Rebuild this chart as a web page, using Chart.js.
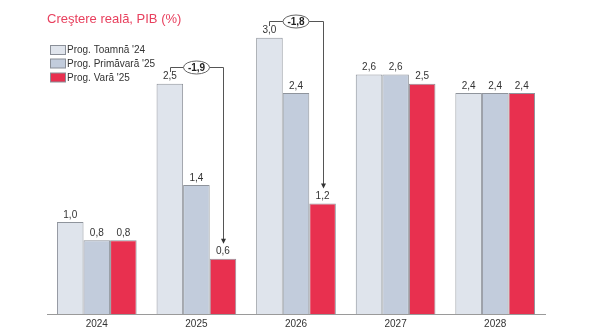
<!DOCTYPE html>
<html><head><meta charset="utf-8">
<script src="https://cdn.jsdelivr.net/npm/chart.js@4/dist/chart.umd.min.js"></script>
<style>html,body{margin:0;padding:0;background:#fff}#wrap{width:600px;height:334px;position:relative}</style>
</head><body><div id="wrap"><canvas id="c" width="600" height="334"></canvas></div>
<script>
const categories = ['2024','2025','2026','2027','2028'];
const seriesNames = ["Prog. Toamnă '24", "Prog. Primăvară '25", "Prog. Vară '25"];
const toamna24 = [1.0, 2.5, 3.0, 2.6, 2.4];
const primavara25 = [0.8, 1.4, 2.4, 2.6, 2.4];
const vara25 = [0.8, 0.6, 1.2, 2.5, 2.4];
const diffLabels = [{cat: 1, text: '-1,9'}, {cat: 2, text: '-1,8'}];
const titleText = 'Creştere reală, PIB (%)';

const colors = ['#dfe4ec', '#c2ccdc', '#e8304f'];
const FONT = '"Liberation Sans", Arial, sans-serif';

const fmt = v => v.toFixed(1).replace('.', ',');

const labelsPlugin = {
  id: 'labels',
  afterDatasetsDraw(chart) {
    const ctx = chart.ctx;
    ctx.save();
    ctx.font = '10px ' + FONT;
    ctx.fillStyle = '#333';
    ctx.textAlign = 'center';
    ctx.textBaseline = 'bottom';
    chart.data.datasets.forEach((ds, i) => {
      chart.getDatasetMeta(i).data.forEach((bar, j) => {
        ctx.fillText(fmt(ds.data[j]), bar.x, bar.y - 2);
      });
    });
    // brackets
    diffLabels.forEach(d => {
      const a = chart.getDatasetMeta(0).data[d.cat];
      const c = chart.getDatasetMeta(2).data[d.cat];
      const yTop = Math.round(a.y - 17);
      const xl = Math.round(a.x), xr = Math.round(c.x);
      ctx.strokeStyle = '#555';
      ctx.lineWidth = 1;
      ctx.beginPath();
      ctx.moveTo(xl + 0.5, yTop + 5);
      ctx.lineTo(xl + 0.5, yTop + 0.5);
      ctx.lineTo(xr + 0.5, yTop + 0.5);
      ctx.lineTo(xr + 0.5, c.y - 19);
      ctx.stroke();
      ctx.fillStyle = '#333';
      ctx.beginPath();
      ctx.moveTo(xr + 0.5, c.y - 15);
      ctx.lineTo(xr - 2, c.y - 20);
      ctx.lineTo(xr + 3, c.y - 20);
      ctx.closePath();
      ctx.fill();
      const cx = (xl + xr) / 2;
      ctx.beginPath();
      ctx.ellipse(cx, yTop + 0.5, 13, 6.5, 0, 0, Math.PI * 2);
      ctx.fillStyle = '#fff';
      ctx.fill();
      ctx.strokeStyle = '#666';
      ctx.stroke();
      ctx.fillStyle = '#222';
      ctx.font = 'bold 10px ' + FONT;
      ctx.textBaseline = 'middle';
      ctx.fillText(d.text, cx, yTop + 1);
    });
    // title
    ctx.textAlign = 'left';
    ctx.textBaseline = 'middle';
    ctx.font = '13px ' + FONT;
    ctx.fillStyle = '#e8405e';
    ctx.fillText(titleText, 47, 19);
    // legend
    ctx.font = '10px ' + FONT;
    const ly = [50, 63.5, 77.5];
    chart.data.datasets.forEach((ds, i) => {
      ctx.fillStyle = ds.backgroundColor;
      ctx.fillRect(50.5, ly[i] - 4.5, 15, 9);
      ctx.strokeStyle = '#8a8f98';
      ctx.strokeRect(50.5, ly[i] - 4.5, 15, 9);
      ctx.fillStyle = '#333';
      ctx.fillText(ds.label, 67, ly[i] + 0.5);
    });
    ctx.restore();
  }
};

new Chart(document.getElementById('c'), {
  type: 'bar',
  data: {
    labels: categories,
    datasets: [
      {label: seriesNames[0], data: toamna24, backgroundColor: colors[0]},
      {label: seriesNames[1], data: primavara25, backgroundColor: colors[1]},
      {label: seriesNames[2], data: vara25, backgroundColor: colors[2]}
    ].map(d => Object.assign(d, {borderColor: '#8f949c', borderWidth: 1, borderSkipped: 'bottom', categoryPercentage: 0.8, barPercentage: 1.0}))
  },
  options: {
    responsive: false,
    animation: false,
    devicePixelRatio: 1,
    layout: {padding: {left: 47, right: 55, top: 10, bottom: 0}},
    plugins: {legend: {display: false}, tooltip: {enabled: false}},
    scales: {
      x: {
        grid: {display: false, drawTicks: false},
        border: {display: true, color: '#9a9a9a', width: 1},
        ticks: {color: '#333', font: {family: FONT, size: 10}, padding: 4},
        afterFit(s) { s.height = 20; }
      },
      y: {display: false, min: 0, max: 3.3}
    }
  },
  plugins: [labelsPlugin]
});
</script>
</body></html>
